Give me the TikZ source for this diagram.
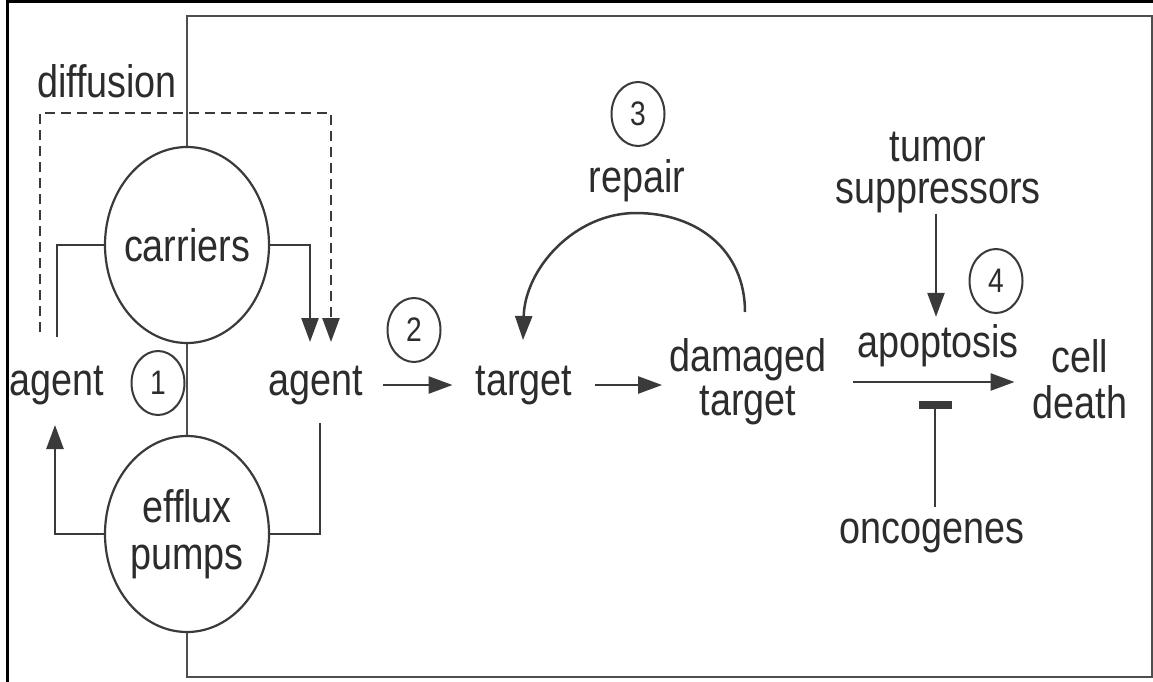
\documentclass[tikz,border=0pt]{standalone}
\usepackage{fontspec}
\setmainfont{Liberation Sans}[FakeStretch=0.83]
\usetikzlibrary{arrows.meta,shapes.geometric,calc}
\definecolor{linec}{HTML}{3A3A3A}
\definecolor{textc}{HTML}{2C2C2C}
\begin{document}
\begin{tikzpicture}[x=1pt,y=-1pt,
  txt/.style={text=textc, inner sep=0pt, font=\fontsize{45.5}{45}\selectfont},
  blob/.style={ellipse, draw=linec, line width=2.2pt, minimum width=164pt, minimum height=196pt,
    inner sep=0pt, text=textc, font=\fontsize{45.5}{47}\selectfont},
  num/.style={ellipse, draw=linec, line width=2pt, minimum width=53pt, minimum height=64pt,
    inner sep=0pt, text=textc, font=\fontsize{34}{34}\selectfont},
  conn/.style={draw=linec, line width=2.5pt},
  arr/.style={conn, -{Triangle[length=24pt,width=17pt]}},
  dashline/.style={dash pattern=on 10pt off 6pt},
  memb/.style={draw=linec!90, line width=2.8pt},
  frame/.style={draw=black, line width=3pt}]
\useasboundingbox (0,0) rectangle (1153,682);
\fill[white] (0,0) rectangle (1153,682);
\draw[frame] (7,682) -- (7,2) -- (1153,2);

% shapes
\node[blob] (carriers) at (187,245) {\makebox[0pt]{carriers}};
\node[blob, align=center] (efflux) at (187,534) {\makebox[0pt]{efflux}\\\makebox[0pt]{pumps}};

% membrane
\draw[memb] (carriers.north) -- (187,16) -- (1152,16) -- (1152,677) -- (187,677) -- (efflux.south);
\draw[memb] (carriers.south) -- (efflux.north);

% texts
\node[txt, anchor=base] (diff) at (107,98) {diffusion};
\node[txt, anchor=base] (agentL) at (57,395) {agent};
\node[txt, anchor=base] (agentR) at (316,395) {agent};
\node[txt, anchor=base] (target) at (524,395) {target};
\node[txt, align=center, font=\fontsize{45.5}{44}\selectfont] (damaged) at (748,382) {damaged\\target};
\node[txt, anchor=base] (repair) at (637,192) {repair};
\node[txt, align=center, font=\fontsize{45.5}{42}\selectfont] (tumor) at (938,173) {tumor\\suppressors};
\node[txt, anchor=base] (apop) at (938,357) {apoptosis};
\node[txt, align=center, font=\fontsize{45.5}{46}\selectfont] (cell) at (1080,379) {cell\\death};
\node[txt, anchor=base] (onco) at (932,543) {oncogenes};

% numbers
\node[num] (n1) at (158,383) {1};
\node[num] (n2) at (414,330) {2};
\node[num] (n3) at (638,114) {3};
\node[num] (n4) at (996,281) {4};

% connector end points
\coordinate (cInR) at (310,342);
\coordinate (dInR) at (331,342);
\coordinate (dOutL) at (40,332);
\coordinate (dTop) at (185,113);
\coordinate (aLtop) at (57,337);
\coordinate (aLin) at (55,425);
\coordinate (aRbot) at (320,423);
\coordinate (rStart) at (745,312);
\coordinate (rEnd) at (523,340);
\coordinate (bar) at (935,401);

% left side transport
\draw[conn] (aLtop) |- (carriers.west);
\draw[arr] (carriers.east) -| (cInR);
\draw[arr, dashline] (dOutL) |- (dTop) -| (dInR);
\draw[arr] (efflux.west) -| (aLin);
\draw[conn] (aRbot) |- (efflux.east);

% main chain
\draw[arr, shorten <=20pt, shorten >=23pt] (agentR.east) -- (target.west |- agentR.east);
\draw[arr, shorten <=23pt, shorten >=7pt] (target.east) -- (damaged.west |- target.east);
\draw[arr] (rStart) .. controls (745,250) and (697,213) .. (636,213)
  .. controls (575,213) and (525,268) .. (rEnd);
\draw[arr, shorten >=7pt] ([xshift=-2pt]tumor.south) -- ([xshift=-2pt]apop.north);
\draw[arr] ([xshift=26pt]damaged.east) -- ($(cell.west |- damaged.east)+(-18,0)$);
\draw[conn, -{Rectangle[length=8pt,width=33pt]}, shorten <=11pt] ([xshift=3pt]onco.north) -- (bar);
\end{tikzpicture}
\end{document}
